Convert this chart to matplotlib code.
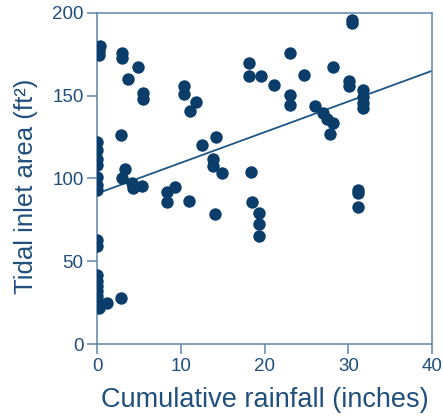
import matplotlib
matplotlib.use("Agg")
import matplotlib.pyplot as plt

rain_x = [0.3, 0.2, 0.2,
          0, 0, 0, 0, 0, 0, 0,
          0, 0,
          0, 0, 0, 0, 0, 0, 0, 0.2, 1.1, 2.8,
          2.9, 2.9, 4.8, 3.6, 5.4, 5.4,
          2.8, 3.3, 2.9, 4.1, 4.3, 5.3,
          8.3, 8.3, 9.3,
          10.4, 10.4, 11.8, 11.1,
          12.5, 14.2, 13.8, 13.8, 14.9,
          10.9, 14.0,
          18.1, 18.1, 19.6, 21.1, 23.0, 24.7, 28.2,
          23.0, 23.0, 26.0, 27.0, 27.4, 28.2, 27.8,
          30.5, 30.5, 30.1, 30.1,
          31.7, 31.7, 31.7, 31.7,
          18.4, 18.5, 19.3, 19.3, 19.3,
          31.1, 31.1, 31.1]
area_y = [180, 177, 174.5,
          122, 117.5, 112, 108, 101, 96, 93,
          63, 59,
          41.5, 38, 35, 32, 29, 26.5, 24, 22, 24.5, 27.5,
          175.5, 172.5, 167.5, 160, 151.5, 148,
          126, 105.5, 100, 97, 94.5, 95.5,
          92, 86, 95,
          156, 151, 146, 141,
          120, 125, 111.5, 107.5, 103.5,
          86.5, 78.5,
          169.5, 162, 162, 156.5, 176, 162.5, 167.5,
          150.5, 144.5, 143.5, 139.5, 136, 133.5, 127,
          195.5, 194, 159, 156,
          153.5, 149.5, 145.5, 142.5,
          104, 86, 79, 72.5, 65,
          93, 91, 83]

fit_x = [0, 40]
fit_y = [91, 165]

x_ticks = [0, 10, 20, 30, 40]
y_ticks = [0, 50, 100, 150, 200]

plt.rcParams['font.family'] = ['Liberation Sans', 'DejaVu Sans']

text_c = '#1f4f7c'
spine_c = '#5f86ab'
dot_c = '#0a3d6a'

fig = plt.figure(figsize=(4.43, 4.17), dpi=100)
ax = fig.add_axes([0.220, 0.175, 0.755, 0.794])

ax.scatter(rain_x, area_y, s=80, color=dot_c, zorder=3, linewidths=0)
ax.plot(fit_x, fit_y, color='#1c5687', lw=1.3, zorder=2)

ax.set_xlim(0, 40)
ax.set_ylim(0, 200)
ax.set_xticks(x_ticks)
ax.set_yticks(y_ticks)
ax.tick_params(direction='out', length=7, width=1.1, color=spine_c,
               labelcolor=text_c, labelsize=13.5, pad=3)
for s in ax.spines.values():
    s.set_color(spine_c)
    s.set_linewidth(1.1)

ax.set_xlabel('Cumulative rainfall (inches)', fontsize=19.5, color=text_c, labelpad=9)
ax.set_ylabel('Tidal inlet area (ft²)', fontsize=18.5, color=text_c)
ax.yaxis.set_label_coords(-0.178, 0.476)

fig.savefig('out.png', dpi=100)
